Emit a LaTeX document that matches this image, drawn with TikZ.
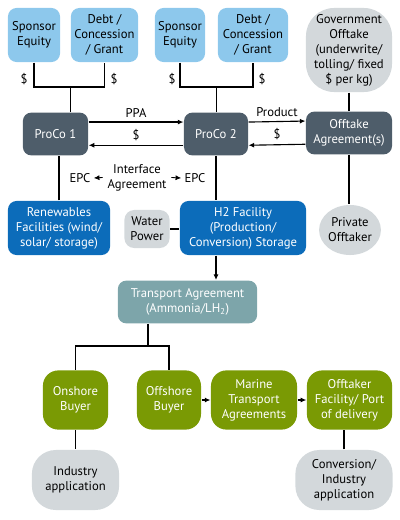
\documentclass[tikz,border=0pt]{standalone}
\usepackage{fontspec}
\setmainfont{PT Sans}
\usetikzlibrary{arrows.meta,shapes.geometric}
\definecolor{fundblue}{RGB}{141,200,236}
\definecolor{procogrey}{RGB}{78,93,106}
\definecolor{facblue}{RGB}{12,108,186}
\definecolor{partygrey}{RGB}{211,216,219}
\definecolor{transteal}{RGB}{125,165,170}
\definecolor{buyergreen}{RGB}{122,154,4}
\begin{document}
\begin{tikzpicture}
			[x=0.025cm,y=-0.025cm,line width=0.8pt,>={Latex[length=4pt,width=3.6pt]},
			box/.style={align=center,inner sep=1pt,font=\fontsize{9}{10.7}\selectfont},
			fund/.style={box,fill=fundblue,rounded corners=6pt,minimum height=1.35cm},
			proco/.style={box,fill=procogrey,text=white,rounded corners=6pt,minimum height=1.07cm},
			facility/.style={box,fill=facblue,text=white,rounded corners=6pt,minimum height=1.35cm},
			party/.style={box,fill=partygrey,rounded corners=17pt},
			transport/.style={box,fill=transteal,text=white,rounded corners=6pt,minimum height=1.07cm},
			buyer/.style={box,fill=buyergreen,text=white,rounded corners=11pt,minimum height=1.48cm},
			lbl/.style={box,inner sep=0pt}]
			\useasboundingbox (0,0) rectangle (400,520);
			\node[fund,name=se1,minimum width=1.3cm] at (34,35) {Sponsor\\Equity};
			\node[fund,name=dg1,minimum width=1.68cm] at (104.5,35) {Debt /\\Concession\\/ Grant};
			\node[fund,name=se2,minimum width=1.25cm] at (180,35) {Sponsor\\Equity};
			\node[fund,name=dg2,minimum width=1.75cm] at (253,35) {Debt /\\Concession\\/ Grant};
			\node[party,name=gov,rounded corners=20pt,minimum width=2.15cm,minimum height=2.1cm] at (349,50) {Government\\Offtake\\(underwrite/\\tolling/ fixed\\\$ per kg)};
			\node[proco,name=proco1,minimum width=1.63cm] at (55.5,134) {ProCo 1};
			\node[proco,name=proco2,minimum width=1.6cm] at (216,134) {ProCo 2};
			\node[proco,name=offtake,minimum width=2.15cm] at (349,133) {Offtake\\Agreement(s)};
			\node[facility,name=ren,minimum width=2.55cm] at (59,228) {Renewables\\Facilities (wind/\\solar/ storage)};
			\node[party,name=water,rounded corners=7pt,minimum width=1.13cm,minimum height=0.95cm] at (147,229) {Water\\Power};
			\node[facility,name=h2,minimum width=3.15cm] at (243,228) {H2 Facility\\(Production/\\Conversion) Storage};
			\node[box,ellipse,fill=partygrey,inner sep=0pt,name=priv,minimum width=1.5cm,minimum height=1.25cm] at (350,230) {Private\\Offtaker};
			\node[transport,name=ta,minimum width=3.48cm] at (187.5,302) {Transport Agreement\\(Ammonia/LH\textsubscript{2})};
			\node[buyer,name=on,minimum width=1.63cm] at (75.5,400) {Onshore\\Buyer};
			\node[buyer,name=off,minimum width=1.6cm] at (169,400) {Offshore\\Buyer};
			\node[buyer,name=mar,minimum width=2.15cm] at (254,400) {Marine\\Transport\\Agreements};
			\node[buyer,name=ofac,minimum width=2.13cm] at (349.5,400) {Offtaker\\Facility/ Port\\of delivery};
			\node[party,name=ind,minimum width=2.18cm,minimum height=1.5cm] at (75.5,480) {Industry\\application};
			\node[party,name=conv,minimum width=2.43cm,minimum height=1.5cm] at (344,480) {Conversion/\\Industry\\application};
			% funding brackets
			\coordinate (b1) at (70.5,87);
			\coordinate (b2) at (216.5,87);
			\draw (se1.south) |- (dg1.south |- b1) -- (dg1.south);
			\draw (b1) -- (b1 |- proco1.north);
			\draw (se2.south) |- (dg2.south |- b2) -- (dg2.south);
			\draw (b2) -- (b2 |- proco2.north);
			\node[lbl,name=d1] at (24,79) {\$};
			\node[lbl,name=d2] at (114,79) {\$};
			\node[lbl,name=d3] at (172,79) {\$};
			\node[lbl,name=d4] at (262,79) {\$};
			\draw (gov) -- (offtake);
			% contracts between parties
			\draw[->] ([yshift=8.5pt]proco1.east) -- node[lbl,above=3pt]{PPA} ([yshift=8.5pt]proco2.west);
			\draw[->] ([yshift=-8pt]proco2.west) -- node[lbl,above=3pt]{\$} ([yshift=-8pt]proco1.east);
			\draw[->] ([yshift=8.5pt]proco2.east) -- node[lbl,above=3pt]{Product} ([yshift=8.5pt]offtake.west);
			\draw[->] ([yshift=-8pt]offtake.west) -- node[lbl,above=3pt]{\$} ([yshift=-8pt]proco2.east);
			\draw (ren.north) -- (ren.north |- proco1.south);
			\draw (proco2) -- (proco2 |- h2.north);
			\draw (offtake) -- (offtake |- priv.north);
			\draw (water.east) -- (water.east -| h2.west);
			\node[lbl,name=ia] at (137,177.5) {Interface\\Agreement};
			\node[lbl,name=epc1] at (80,178) {EPC};
			\node[lbl,name=epc2] at (195,178) {EPC};
			\draw[->,line width=0.6pt] ([xshift=-3pt]ia.west) -- ([xshift=2pt]epc1.east);
			\draw[->,line width=0.6pt] ([xshift=3pt]ia.east) -- ([xshift=-2pt]epc2.west);
			% transport and buyers
			\draw[->] (proco2 |- h2.south) -- (proco2 |- ta.north);
			\coordinate (t1) at (148,346);
			\draw (t1 |- ta.south) -- (t1);
			\draw (on.north) |- (off.north |- t1) -- (off.north);
			\draw[->] (off) -- (mar);
			\draw[->] (mar) -- (ofac);
			\draw (on) -- (ind);
			\draw (conv.north) -- (conv.north |- ofac.south);
		\end{tikzpicture}
\end{document}
